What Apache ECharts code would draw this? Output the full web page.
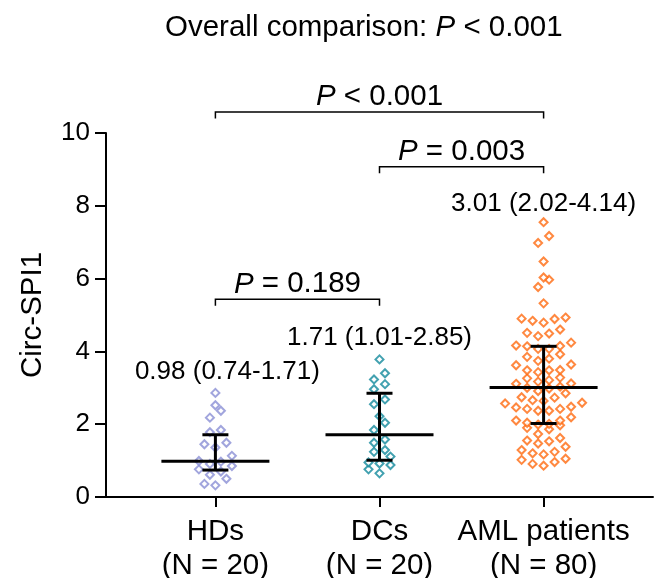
<!DOCTYPE html>
<html>
<head>
<meta charset="utf-8">
<script src="https://cdn.jsdelivr.net/npm/echarts@6/dist/echarts.min.js"></script>
<style>
  html, body { margin: 0; padding: 0; background: #fff; }
  #main { width: 656px; height: 578px; }
</style>
</head>
<body>
<div id="main"></div>
<script>
var groups = ['HDs', 'DCs', 'AML patients'];
var groupN = [20, 20, 80];
var colors = ['#8a8fd4', '#138a9c', '#ff6a10'];

var hdValues = [2.86, 2.52, 2.37, 2.18, 1.84, 1.78, 1.49, 1.45, 1.36, 1.13,
  0.99, 0.97, 0.91, 0.85, 0.76, 0.70, 0.61, 0.50, 0.36, 0.32];
var dcValues = [3.78, 3.40, 3.23, 3.10, 2.96, 2.68, 2.55, 2.22, 2.04, 1.84,
  1.58, 1.49, 1.29, 1.24, 1.11, 0.95, 0.92, 0.88, 0.76, 0.65];
var amlValues = [7.55, 7.17, 6.98, 6.47, 6.03, 5.97, 5.77, 5.32,
  4.93, 4.90, 4.89, 4.84, 4.79,
  4.60, 4.51, 4.49, 4.42,
  4.24, 4.16, 4.15, 4.14, 4.07, 4.07,
  3.92, 3.85, 3.80, 3.74,
  3.64, 3.62, 3.49, 3.48, 3.48, 3.43,
  3.28, 3.26, 3.21, 3.17, 3.12, 3.11,
  3.03, 3.00, 2.98, 2.91, 2.85,
  2.74, 2.73, 2.66, 2.64,
  2.59, 2.57, 2.48, 2.46, 2.42, 2.42, 2.37, 2.37,
  2.19, 2.10, 2.10, 2.04, 2.01, 1.99, 1.97,
  1.90, 1.86, 1.73,
  1.62, 1.55, 1.53, 1.47, 1.38,
  1.29, 1.24, 1.20, 1.17,
  1.05, 1.02, 0.96, 0.91, 0.86];

var medians = [0.98, 1.71, 3.01];
var q1s = [0.74, 1.01, 2.02];
var q3s = [1.71, 2.85, 4.14];
var labelY = [3.08, 4.01, 7.70];

var compPairs = [[1, 3], [2, 3], [1, 2]];
var compY = [10.58, 9.07, 5.43];
var compP = ['< 0.001', '= 0.003', '= 0.189'];
var overallP = '< 0.001';

var FONT = 'Liberation Sans';

// GraphPad-like scatter: values binned in rows, spread out from the centre
function swarm(values, center, rowH, step) {
  var sorted = values.slice().sort(function (a, b) { return a - b; });
  var out = [];
  var i = 0;
  while (i < sorted.length) {
    var start = sorted[i];
    var row = [];
    while (i < sorted.length && sorted[i] <= start + rowH) row.push(sorted[i++]);
    var n = row.length;
    row.forEach(function (v, k) {
      var off;
      if (n % 2) {
        var m = Math.ceil(k / 2);
        off = k === 0 ? 0 : (k % 2 ? -m : m);
      } else {
        var m2 = Math.floor(k / 2) + 0.5;
        off = k % 2 ? m2 : -m2;
      }
      out.push([center + off * step, v]);
    });
  }
  return out;
}

var allValues = [hdValues, dcValues, amlValues];
var scatterSeries = allValues.map(function (vals, i) {
  return {
    name: groups[i],
    type: 'scatter',
    data: swarm(vals, i + 1, 0.24, 0.067),
    symbol: 'emptyDiamond',
    symbolSize: 8,
    itemStyle: { color: colors[i], borderColor: colors[i], borderWidth: 1.6 },
    z: 2
  };
});

var richP = {
  i: { fontStyle: 'italic', fontWeight: 'normal', fontSize: 29.5, fontFamily: FONT, color: '#000' },
  n: { fontWeight: 'normal', fontSize: 29.5, fontFamily: FONT, color: '#000' }
};

var option = {
  animation: false,
  title: {
    text: '{n|Overall comparison: }{i|P}{n| ' + overallP + '}',
    left: 165,
    top: 13,
    padding: 0,
    textStyle: { fontWeight: 'normal', rich: richP }
  },
  grid: { left: 106, right: 3, top: 133, bottom: 81, outerBoundsMode: 'none' },
  xAxis: {
    type: 'value',
    min: 1 / 3,
    max: 11 / 3,
    axisLine: { lineStyle: { color: '#000', width: 2 } },
    axisTick: { customValues: [1, 2, 3], length: 10, lineStyle: { color: '#000', width: 2 } },
    axisLabel: {
      customValues: [1, 2, 3],
      formatter: function (v) {
        var i = Math.round(v) - 1;
        return groups[i] + '\n(N = ' + groupN[i] + ')';
      },
      color: '#000', fontSize: 29.5, lineHeight: 34, fontFamily: FONT, margin: 18
    },
    splitLine: { show: false }
  },
  yAxis: {
    type: 'value',
    min: 0,
    max: 10,
    interval: 2,
    name: 'Circ-SPI1',
    nameLocation: 'middle',
    nameGap: 58,
    nameTextStyle: { color: '#000', fontSize: 29.5, fontFamily: FONT },
    axisLine: { show: true, onZero: false, lineStyle: { color: '#000', width: 2 } },
    axisTick: { show: true, length: 11, lineStyle: { color: '#000', width: 2 } },
    axisLabel: { color: '#000', fontSize: 26, fontFamily: FONT, margin: 16 },
    splitLine: { show: false }
  },
  series: scatterSeries.concat([
    {
      // median with interquartile range
      type: 'custom',
      data: groups.map(function (g, i) { return [i + 1, medians[i], q1s[i], q3s[i], labelY[i]]; }),
      renderItem: function (params, api) {
        var x = api.value(0);
        var m = api.coord([x, api.value(1)]);
        var lo = api.coord([x, api.value(2)]);
        var hi = api.coord([x, api.value(3)]);
        var lab = api.coord([x, api.value(4)]);
        var idx = params.dataIndex;
        var st = { stroke: '#000', lineWidth: 3 };
        var txt = medians[idx].toFixed(2) + ' (' + q1s[idx].toFixed(2) + '-' + q3s[idx].toFixed(2) + ')';
        return {
          type: 'group',
          children: [
            { type: 'line', shape: { x1: m[0] - 54, y1: m[1], x2: m[0] + 54, y2: m[1] }, style: st },
            { type: 'line', shape: { x1: m[0], y1: lo[1], x2: m[0], y2: hi[1] }, style: st },
            { type: 'line', shape: { x1: m[0] - 13, y1: lo[1], x2: m[0] + 13, y2: lo[1] }, style: st },
            { type: 'line', shape: { x1: m[0] - 13, y1: hi[1], x2: m[0] + 13, y2: hi[1] }, style: st },
            {
              type: 'text',
              x: lab[0] + (idx === 0 ? 12 : 0),
              y: lab[1],
              style: {
                text: txt, fill: '#000', fontSize: 26, fontFamily: FONT,
                align: 'center', verticalAlign: 'bottom'
              }
            }
          ]
        };
      },
      z: 3
    },
    {
      // pairwise comparison brackets
      type: 'custom',
      clip: false,
      data: compPairs.map(function (p, i) { return [p[0], p[1], compY[i]]; }),
      renderItem: function (params, api) {
        var a = api.coord([api.value(0), api.value(2)]);
        var b = api.coord([api.value(1), api.value(2)]);
        var leg = 6.5;
        return {
          type: 'group',
          children: [
            {
              type: 'polyline',
              shape: { points: [[a[0], a[1] + leg], [a[0], a[1]], [b[0], b[1]], [b[0], b[1] + leg]] },
              style: { stroke: '#000', lineWidth: 1.5, fill: null }
            },
            {
              type: 'text',
              x: (a[0] + b[0]) / 2,
              y: a[1],
              style: {
                text: '{i|P}{n| ' + compP[params.dataIndex] + '}',
                rich: richP,
                align: 'center', verticalAlign: 'bottom'
              }
            }
          ]
        };
      },
      z: 3
    }
  ])
};

var chart = echarts.init(document.getElementById('main'));
chart.setOption(option);
</script>
</body>
</html>
